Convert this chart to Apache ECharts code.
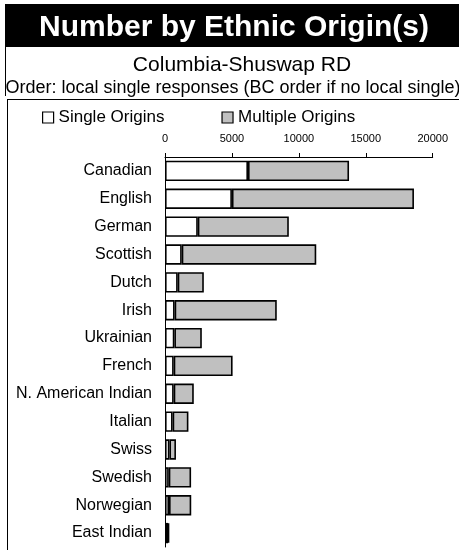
<!DOCTYPE html>
<html>
<head>
<meta charset="utf-8">
<script src="https://cdn.jsdelivr.net/npm/echarts@6/dist/echarts.min.js"></script>
<style>
html,body{margin:0;padding:0;background:#fff;}
#c{width:459px;height:550px;}
</style>
</head>
<body>
<div id="c"></div>
<script>
var categories = ['Canadian','English','German','Scottish','Dutch','Irish','Ukrainian','French','N. American Indian','Italian','Swiss','Swedish','Norwegian','East Indian'];
var singleOrigins = [6200,5000,2450,1250,950,720,700,650,650,570,330,280,300,230];
var multipleOrigins = [7550,13600,6800,10050,1950,7630,2050,4400,1500,1180,490,1670,1660,70];
var xTicks = [0,5000,10000,15000,20000];

var FONT = '"Liberation Sans", Arial, sans-serif';
var chart = echarts.init(document.getElementById('c'), null, {renderer:'canvas'});
chart.setOption({
  animation:false,
  backgroundColor:'#fff',
  textStyle:{fontFamily:FONT, color:'#000'},
  graphic:[
    {type:'rect', shape:{x:5,y:4,width:454,height:43}, style:{fill:'#000'}, silent:true},
    {type:'text', x:234, y:28, style:{text:'Number by Ethnic Origin(s)', fill:'#fff', font:'bold 30px '+FONT, textAlign:'center', textVerticalAlign:'middle'}},
    {type:'text', x:242, y:65, style:{text:'Columbia-Shuswap RD', fill:'#000', font:'21px '+FONT, textAlign:'center', textVerticalAlign:'middle'}},
    {type:'text', x:233, y:88, style:{text:'Order: local single responses (BC order if no local single)', fill:'#000', font:'18px '+FONT, textAlign:'center', textVerticalAlign:'middle'}},
    {type:'line', shape:{x1:5.5,y1:47,x2:5.5,y2:96}, style:{stroke:'#000',lineWidth:1}},
    {type:'line', shape:{x1:7,y1:99.5,x2:459,y2:99.5}, style:{stroke:'#000',lineWidth:1}},
    {type:'line', shape:{x1:7.5,y1:99,x2:7.5,y2:550}, style:{stroke:'#000',lineWidth:1}}
  ],
  legend:{
    left:42, top:109, padding:0, itemGap:57, itemWidth:11, itemHeight:11, icon:'rect',
    textStyle:{fontSize:17, fontFamily:FONT, color:'#000'},
    itemStyle:{borderColor:'#000', borderWidth:1.2},
    data:['Single Origins','Multiple Origins']
  },
  grid:{left:165, top:157, right:26.3, bottom:3, containLabel:false},
  xAxis:{
    type:'value', position:'top', min:0, max:20000, interval:5000,
    axisLine:{show:true, lineStyle:{color:'#000', width:1}},
    axisTick:{show:true, length:4, lineStyle:{color:'#000'}},
    splitLine:{show:false},
    axisLabel:{fontSize:11, color:'#000', fontFamily:FONT, margin:13,
      formatter:function(v){ return xTicks.indexOf(v) >= 0 ? String(v) : ''; }}
  },
  yAxis:{
    type:'category', inverse:true, data:categories,
    axisLine:{show:true, lineStyle:{color:'#000', width:1}},
    axisTick:{show:false},
    axisLabel:{fontSize:16, color:'#000', fontFamily:FONT, margin:13}
  },
  series:[
    {name:'Single Origins', type:'bar', stack:'t', data:singleOrigins, barCategoryGap:'27%',
      itemStyle:{color:'#fff', borderColor:'#000', borderWidth:1.6}},
    {name:'Multiple Origins', type:'bar', stack:'t', data:multipleOrigins, barCategoryGap:'27%',
      itemStyle:{color:'#c0c0c0', borderColor:'#000', borderWidth:1.6}}
  ]
});
</script>
</body>
</html>
